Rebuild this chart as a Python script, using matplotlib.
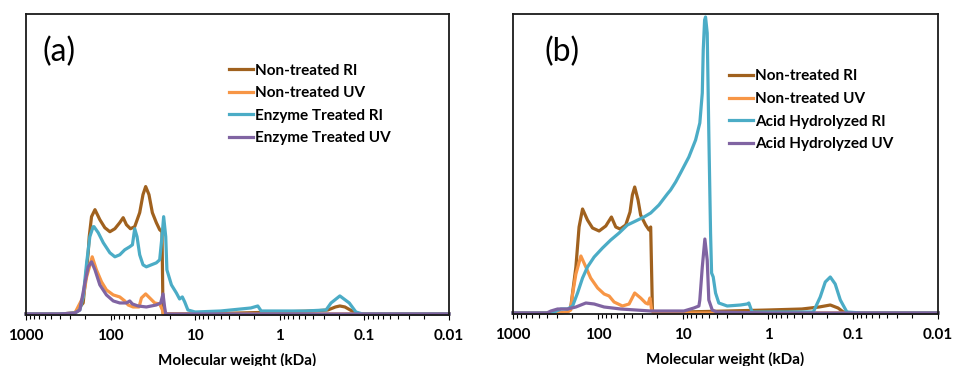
import matplotlib
matplotlib.use('Agg')
import matplotlib.pyplot as plt

plt.rcParams['font.family'] = ['Lato', 'DejaVu Sans']

# molecular weight (kDa) and detector response (a.u.)
# ---- panel (a): non-treated vs enzyme treated
a_ntri_mw = [1000, 400, 264, 211, 184, 179, 168, 153, 134, 117, 102, 89, 78,
             71, 65, 58.3, 51.9, 45.3, 41.4, 38.5, 35.2, 32.1, 28.8, 26.3,
             24.7, 24.0, 10, 3, 1, 0.4, 0.27, 0.22, 0.195, 0.17, 0.14, 0.115,
             0.01]
a_ntri = [1, 1, 2, 12, 62, 78, 98, 105, 95, 87, 83, 86, 92,
          97, 90, 86, 88, 102, 120, 128, 120, 102, 92, 85,
          83, 1, 1, 2, 3, 4, 5, 8, 9, 8, 4, 1,
          1]

a_ntuv_mw = [1000, 400, 264, 211, 192, 165, 147, 128, 112, 93, 78, 68, 62,
             54.3, 46.1, 43.2, 38.5, 34.5, 30.1, 26.3, 24.4, 23.6, 0.01]
a_ntuv = [1, 1, 2, 18, 38, 58, 45, 33, 25, 20, 18, 14, 10,
          8, 8, 17, 21, 17, 12, 11, 5, 1, 1]

a_etri_mw = [1000, 400, 264, 231, 211, 192, 176, 161, 157, 140, 122, 102, 89,
             78, 68, 59.4, 55.2, 51.9, 48.7, 45.3, 41.4, 37.8, 33.0, 28.8,
             26.3, 24.7, 23.6, 22.3, 21.6, 19.1, 16.7, 15.3, 14.2, 13.3, 12.2,
             10, 5, 2.2, 1.82, 1.66, 1, 0.5, 0.284, 0.248, 0.195, 0.151,
             0.126, 0.105, 0.01]
a_etri = [1, 1, 2, 5, 18, 52, 78, 88, 88, 82, 72, 62, 58,
          60, 65, 68, 70, 86, 78, 60, 50, 48, 50, 52,
          55, 78, 98, 78, 45, 30, 22, 16, 18, 13, 5,
          3, 4, 7, 9, 4, 4, 4, 5, 12, 19, 12,
          3, 1, 1]

a_etuv_mw = [1000, 400, 264, 231, 201, 184, 168, 153, 134, 112, 93, 78, 65,
             59.4, 55.2, 47.4, 37.8, 28.8, 25.6, 24.0, 23.0, 22.3, 0.01]
a_etuv = [1, 1, 2, 5, 32, 48, 53, 45, 30, 20, 14, 12, 12,
          14, 11, 9, 8, 10, 12, 21, 8, 1, 1]

# ---- panel (b): non-treated vs acid hydrolyzed
b_ntri_mw = [1000, 400, 273, 228, 209, 182, 167, 152, 133, 116, 97, 81, 69.5,
             61.8, 55.0, 47.2, 42.0, 39.4, 37.0, 33.8, 31.5, 27.5, 25.1, 24.0,
             22.9, 22.1, 10, 3, 1, 0.4, 0.25, 0.185, 0.15, 0.13, 0.1, 0.01]
b_ntri = [1, 1, 1, 2, 7, 47, 87, 105, 94, 86, 83, 88, 97,
          87, 85, 89, 102, 119, 127, 114, 99, 89, 84, 87,
          4, 2, 2, 3, 4, 5, 7, 9, 6, 2, 1, 1]

b_ntuv_mw = [1000, 273, 228, 209, 199, 182, 159, 139, 122, 101, 84.7, 74, 64.7,
             51.6, 43.1, 37.0, 31.5, 27.5, 25.8, 24.5, 23.4, 22.1, 0.01]
b_ntuv = [1, 1, 2, 4, 20, 40, 58, 47, 36, 26, 20, 18, 12,
          8, 10, 21, 16, 11, 10, 16, 4, 1, 1]

b_ahri_mw = [1000, 400, 327, 273, 228, 199, 174, 152, 133, 111, 88.5, 70.8,
             56.5, 45.1, 36.0, 28.8, 24.0, 19.2, 15.3, 14.0, 12.2, 10.7, 8.53,
             7.11, 6.34, 5.93, 5.78, 5.57, 5.43, 5.19, 4.97, 4.74, 4.61, 4.41,
             4.14, 3.79, 3.02, 2.11, 1.76, 1.68, 1.54, 1, 0.5, 0.293, 0.243,
             0.212, 0.185, 0.162, 0.141, 0.118, 0.08, 0.01]
b_ahri = [1, 1, 2, 5, 5, 8, 21, 36, 47, 57, 66, 74,
          81, 89, 93, 97, 101, 109, 120, 124, 132, 141, 157,
          174, 191, 221, 264, 294, 297, 281, 181, 81, 41, 37,
          21, 11, 8, 9, 10, 11, 2, 2, 2, 2, 17,
          32, 37, 30, 14, 2, 1, 1]

b_ahuv_mw = [1000, 400, 358, 299, 228, 182, 139, 111, 84.7, 54.0, 24.0, 9.75,
             7.45, 6.5, 6.34, 5.93, 5.53, 5.19, 4.97, 4.53, 4, 1, 0.01]
b_ahuv = [1, 1, 3, 5, 5, 7, 11, 10, 7, 5, 3, 3,
          6, 8, 14, 47, 75, 54, 14, 4, 2, 1, 1]

tick_vals = [1000, 100, 10, 1, 0.1, 0.01]
tick_labels = ['1000', '100', '10', '1', '0.1', '0.01']
colors = ['#A0611E', '#F79646', '#4BACC6', '#8064A2']
labels_a = ['Non-treated RI', 'Non-treated UV', 'Enzyme Treated RI',
            'Enzyme Treated UV']
labels_b = ['Non-treated RI', 'Non-treated UV', 'Acid Hydrolyzed RI',
            'Acid Hydrolyzed UV']


def draw_panel(ax, series, labels, tag, tag_x, leg_anchor):
    for (xs, ys), c, lab in zip(series, colors, labels):
        ax.plot(xs, ys, color=c, lw=2.3, label=lab, clip_on=False,
                solid_joinstyle='round')
    ax.set_xscale('log')
    ax.set_xlim(1000, 0.01)
    ax.set_ylim(0, 300)
    ax.set_yticks([])
    ax.set_xticks(tick_vals)
    ax.set_xticklabels(tick_labels, fontweight='bold', fontsize=11)
    ax.tick_params(axis='x', which='major', direction='out', length=3.6,
                   width=0.8, pad=6.5)
    ax.tick_params(axis='x', which='minor', direction='out', length=2.6,
                   width=0.8)
    for sp in ax.spines.values():
        sp.set_linewidth(1.3)
        sp.set_color('#1a1a1a')
    ax.set_xlabel('Molecular weight (kDa)', fontweight='bold', fontsize=11,
                  labelpad=7)
    ax.text(tag_x, 0.875, tag, transform=ax.transAxes, fontsize=23,
            va='center', ha='left')
    ax.legend(loc='upper left', bbox_to_anchor=leg_anchor, frameon=False,
              prop={'weight': 'bold', 'size': 11}, handlelength=1.55,
              handletextpad=0.15, labelspacing=0.56, borderpad=0,
              borderaxespad=0)


fig = plt.figure(figsize=(9.55, 3.66), dpi=100)
ax1 = fig.add_axes([26 / 955, 51 / 366, 423 / 955, 301 / 366])
ax2 = fig.add_axes([513 / 955, 52 / 366, 425 / 955, 300 / 366])

draw_panel(ax1, [(a_ntri_mw, a_ntri), (a_ntuv_mw, a_ntuv),
                 (a_etri_mw, a_etri), (a_etuv_mw, a_etuv)],
           labels_a, '(a)', 0.04, (0.48, 0.835))
draw_panel(ax2, [(b_ntri_mw, b_ntri), (b_ntuv_mw, b_ntuv),
                 (b_ahri_mw, b_ahri), (b_ahuv_mw, b_ahuv)],
           labels_b, '(b)', 0.075, (0.508, 0.815))

fig.savefig('out.png', dpi=100)
